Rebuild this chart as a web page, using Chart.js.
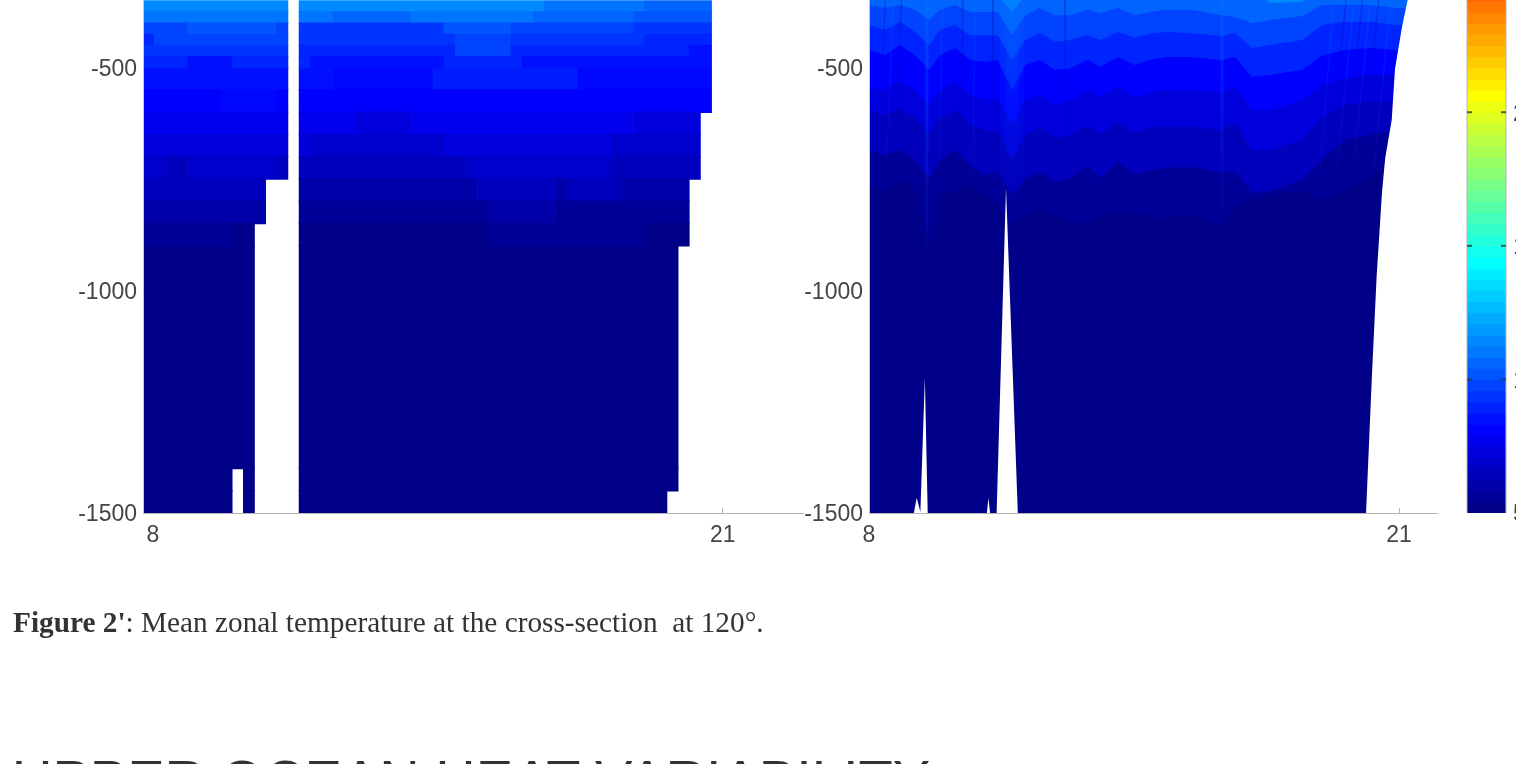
<!DOCTYPE html>
<html lang="en">

<head>
    <meta charset="UTF-8">
    <title>Figure 2'</title>
    <script src="https://cdn.jsdelivr.net/npm/chart.js@4"></script>
    <style>
        html, body { margin: 0; padding: 0; background: #fff; overflow: hidden; width: 1516px; height: 764px; }
        canvas { position: absolute; top: 0; filter: blur(0.5px); }
        #caption { position: absolute; left: 13px; top: 606px; font: 29.3px "Liberation Serif", serif; color: #333; white-space: pre; filter: blur(0.4px); }
        #heading { position: absolute; left: 12px; top: 747px; font: 56px "Liberation Sans", sans-serif; color: #333; white-space: pre; filter: blur(0.4px); }
    </style>
</head>

<body>
    <canvas id="leftPanel" width="810" height="560" style="left:0"></canvas>
    <canvas id="rightPanel" width="714" height="560" style="left:726px"></canvas>
    <canvas id="colorBar" width="120" height="560" style="left:1440px"></canvas>
    <div id="caption"><b>Figure 2'</b>: Mean zonal temperature at the cross-section  at 120°.</div>
    <div id="heading">UPPER OCEAN HEAT VARIABILITY</div>

<script>
    // axis ticks
    const depthTicks = [-1500, -1000, -500];
    const leftLonTicks = [8.22, 21];
    const rightLonTicks = [8, 21];
    const lonTickLabels = ["8", "21"];
    const barTicks = [5, 10, 15, 20];

    // left panel, [lon from, lon to, temperature] per depth row
    const rows25m = {
        "-362.5": [[8, 11.25, 11.5], [11.5, 17, 11.5], [17, 19.25, 11.0], [19.25, 20.75, 10.6]],
        "-387.5": [[8, 11.25, 11.0], [11.5, 12.25, 11.0], [12.25, 14, 10.6], [14, 16.75, 11.0], [16.75, 19, 10.6], [19, 20.75, 10.2]],
        "-412.5": [[8, 9, 9.8], [9, 11, 10.2], [11, 11.25, 9.8], [11.5, 14.75, 9.4], [14.75, 16.25, 10.2], [16.25, 19, 9.8], [19, 20.75, 9.4]],
        "-437.5": [[8, 8.25, 9.0], [8.25, 11.25, 9.8], [11.5, 15, 9.4], [15, 16.25, 9.8], [16.25, 19.25, 9.4], [19.25, 20.75, 9.0]],
        "-462.5": [[8, 11.25, 9.4], [11.5, 15, 9.0], [15, 16.25, 9.8], [16.25, 20.25, 9.0], [20.25, 20.75, 8.5]],
        "-487.5": [[8, 9, 9.0], [9, 10, 8.5], [10, 11.25, 9.0], [11.5, 11.75, 9.0], [11.75, 14.75, 8.5], [14.75, 16.5, 9.0], [16.5, 20.75, 8.5]]
    };
    const rows50m = {
        "-525": [[8, 11.25, 8.5], [11.5, 12.25, 8.5], [12.25, 14.5, 8.3], [14.5, 17.75, 8.8], [17.75, 20.75, 8.3]],
        "-575": [[8, 9.75, 8.1], [9.75, 11, 8.3], [11, 11.25, 8.1], [11.5, 20.75, 8.1]],
        "-625": [[8, 11.25, 7.7], [11.5, 12.75, 7.7], [12.75, 14, 7.3], [14, 19, 7.7], [19, 20.5, 7.3]],
        "-675": [[8, 11.25, 7.3], [11.5, 11.75, 7.3], [11.75, 14.75, 6.9], [14.75, 18.5, 7.3], [18.5, 20.5, 6.9]],
        "-725": [[8, 8.5, 6.9], [8.5, 9, 6.5], [9, 11, 6.9], [11, 11.25, 6.5], [11.5, 15.25, 6.5], [15.25, 18.5, 6.9], [18.5, 20.5, 6.5]],
        "-775": [[8, 10.75, 6.5], [11.5, 15.5, 6.0], [15.5, 17.25, 6.5], [17.25, 17.5, 6.0], [17.5, 18.75, 6.5], [18.75, 20.25, 6.0]],
        "-825": [[8, 10.75, 6.0], [11.5, 15.75, 5.6], [15.75, 17.25, 6.0], [17.25, 20.25, 5.6]],
        "-875": [[8, 10, 5.6], [10, 10.5, 5.2], [11.5, 15.75, 5.2], [15.75, 19.25, 5.6], [19.25, 20.25, 5.2]],
        "-1425": [[8, 10, 5.2], [10.25, 10.5, 5.2], [11.5, 20, 5.2]],
        "-1475": [[8, 10, 5.2], [10.25, 10.5, 5.2], [11.5, 19.75, 5.2]]
    };
    // one tall row from -900 to -1400
    const rowsDeep = {
        "-1150": [[8, 10.5, 5.2], [11.5, 20, 5.2]]
    };

    // right panel, depth of each isotherm at these longitudes
    const isoLons = [8, 8.39, 8.76, 9.13, 9.47, 9.74, 10.11, 10.48, 10.85, 11.16, 11.51, 11.83, 12.19, 12.56, 12.93, 13.37,
        13.67, 14.11, 14.52, 14.89, 15.26, 15.87, 16.66, 16.98, 17.39, 17.84, 18.62, 19.11, 19.68, 20.29, 20.9, 21.27];
    const isoTemps = [11.5, 10.6, 9.8, 9.0, 8.1, 7.3, 6.5, 5.6];
    const iso115 = [-326, -326, -326, -326, -348, -326, -326, -326, -326, -337, -375, -337, -326, -326, -326, -326,
        -326, -326, -326, -326, -326, -326, -326, -326, -326, -355, -352, -326, -326, -326, -326, -326];
    const iso106 = [-359, -366, -359, -370, -393, -370, -359, -375, -375, -375, -427, -382, -366, -382, -382, -370,
        -377, -366, -382, -375, -370, -370, -382, -386, -400, -393, -384, -359, -359, -359, -366, -366];
    const iso98 = [-404, -415, -397, -420, -449, -415, -404, -427, -427, -427, -483, -438, -422, -442, -438, -427,
        -438, -420, -433, -424, -420, -422, -429, -422, -456, -449, -438, -404, -397, -397, -404, -404];
    const iso90 = [-460, -472, -449, -472, -505, -472, -456, -483, -487, -483, -550, -494, -483, -505, -501, -483,
        -498, -476, -494, -483, -476, -476, -483, -476, -521, -516, -505, -472, -460, -456, -460, -460];
    const iso81 = [-546, -550, -528, -550, -584, -550, -532, -561, -573, -568, -629, -573, -561, -584, -573, -550,
        -566, -543, -568, -555, -550, -550, -555, -543, -595, -595, -573, -539, -523, -516, -516, -516];
    const iso73 = [-595, -606, -591, -613, -651, -613, -595, -629, -640, -640, -707, -651, -635, -658, -651, -629,
        -649, -622, -647, -635, -633, -633, -640, -622, -685, -685, -662, -613, -584, -577, -573, -573];
    const iso65 = [-685, -696, -685, -707, -748, -707, -685, -719, -741, -734, -786, -748, -734, -757, -748, -719,
        -748, -712, -741, -730, -725, -723, -734, -734, -779, -777, -752, -707, -662, -651, -640, -640];
    const iso56 = [-764, -775, -752, -775, -887, -786, -775, -764, -786, -808, -853, -831, -820, -831, -847, -847,
        -831, -824, -831, -831, -838, -829, -853, -808, -797, -786, -775, -797, -775, -741, -719, -719];
    const isotherms = [iso115, iso106, iso98, iso90, iso81, iso73, iso65, iso56];

    // seabed outline of the right panel
    const seabedLons = [8, 9.1, 9.17, 9.26, 9.37, 9.44, 10.89, 10.93, 10.97, 11.13, 11.36, 11.65, 20.19, 20.33, 20.45, 20.58, 20.66, 20.82, 20.9, 21.07, 21.21, 21.5, 21.93];
    const seabedDepths = [-1500, -1500, -1466, -1497, -1197, -1500, -1500, -1466, -1500, -1500, -770, -1500, -1500, -1199, -968, -781, -703, -617, -503, -409, -348, -258, -258];

    // narrow warm and cold streaks: [lon top, depth top, lon bottom, depth bottom, width, opacity, warm?]
    const streaks = [
        [9.42, -348, 9.42, -950, 3, 0.4, 1],
        [11.51, -348, 11.51, -800, 24, 0.14, 1],
        [11.51, -348, 11.51, -760, 12, 0.18, 1],
        [11.04, -348, 11.04, -760, 2, 0.3, 0],
        [12.81, -348, 12.81, -800, 2, 0.3, 0],
        [16.66, -348, 16.66, -850, 3, 0.35, 1],
        [19.4, -348, 19.0, -800, 1.5, 0.25, 1],
        [19.7, -348, 19.2, -800, 1.5, 0.3, 0],
        [19.9, -348, 19.4, -800, 1.5, 0.25, 1],
        [20.1, -348, 19.6, -800, 1.5, 0.3, 0],
        [20.3, -348, 19.8, -800, 1.5, 0.25, 1],
        [20.5, -348, 20.0, -800, 1.5, 0.3, 0],
        [20.8, -348, 20.3, -800, 1.5, 0.25, 1],
        [8.4, -348, 8.2, -780, 1.5, 0.3, 0],
        [8.6, -348, 8.4, -780, 1.5, 0.25, 1],
        [8.8, -348, 8.6, -780, 1.5, 0.3, 0],
        [9.8, -348, 9.7, -820, 1.5, 0.25, 1],
        [10.3, -348, 10.25, -820, 1.5, 0.3, 0],
        [10.6, -348, 10.55, -820, 1.5, 0.25, 1]
    ];

    // color bar bands
    const barLevels = [5.21, 5.63, 6.04, 6.46, 6.88, 7.29, 7.71, 8.13, 8.54, 8.96, 9.38, 9.79, 10.21, 10.63, 11.04, 11.46,
        11.88, 12.29, 12.71, 13.13, 13.54, 13.96, 14.38, 14.79, 15.21, 15.63, 16.04, 16.46, 16.88, 17.29, 17.71, 18.13,
        18.54, 18.96, 19.38, 19.79, 20.21, 20.63, 21.04, 21.46, 21.88, 22.29, 22.71, 23.13, 23.54, 23.96, 24.38];

    const textColor = "#444";
    const axisColor = "#b4b4b4";
    const tickFont = { family: "Liberation Sans", size: 23 };

    Chart.defaults.animation = false;

    function jet(temp) {
        const v = (temp - 5) / 25;
        const clamp = (a) => Math.round(255 * Math.max(0, Math.min(1, a)));
        const r = clamp(Math.min(4 * v - 1.5, 4.5 - 4 * v));
        const g = clamp(Math.min(4 * v - 0.5, 3.5 - 4 * v));
        const b = clamp(Math.min(4 * v + 0.5, 2.5 - 4 * v));
        return `rgb(${r},${g},${b})`;
    }

    function rowBars(rows) {
        const bars = [];
        Object.keys(rows).forEach((depth) => {
            rows[depth].forEach((run) => {
                bars.push({ x: [run[0], run[1]], y: Number(depth), t: run[2] });
            });
        });
        return bars;
    }

    // the plot box has to reach the page top, so no label padding on the axes
    function noPadding(scale) {
        scale.paddingTop = 0;
        scale.paddingBottom = 0;
        scale.paddingLeft = 0;
        scale.paddingRight = 0;
    }

    function panelScales(xMax, lonTicks, yWidth) {
        return {
            x: {
                type: "linear",
                offset: false,
                min: 8,
                max: xMax,
                afterFit: (scale) => { scale.height = 47; noPadding(scale); },
                afterBuildTicks: (scale) => { scale.ticks = lonTicks.map((value) => ({ value })); },
                border: { color: axisColor, z: 1 },
                grid: {
                    z: 1,
                    drawOnChartArea: false,
                    tickLength: -5,
                    tickColor: (ctx) => (ctx.tick && ctx.tick.value === 21 ? axisColor : "transparent")
                },
                ticks: {
                    color: textColor,
                    font: tickFont,
                    padding: 14,
                    maxRotation: 0,
                    callback: (value, index) => lonTickLabels[index]
                }
            },
            y: {
                type: "linear",
                offset: false,
                min: -1500,
                max: -348,
                afterFit: (scale) => { scale.width = yWidth; noPadding(scale); },
                afterBuildTicks: (scale) => { scale.ticks = depthTicks.map((value) => ({ value })); },
                border: { color: "#c4c4e0", z: 1 },
                grid: { display: true, drawOnChartArea: false, drawTicks: false },
                ticks: { color: textColor, font: tickFont, padding: 6, labelOffset: 2, callback: (value) => String(value) }
            }
        };
    }

    const noPlugins = { legend: { display: false }, tooltip: { enabled: false } };

    // left panel, bars a bit thicker than their row so no seams show
    const cellColor = (ctx) => (ctx.raw ? jet(ctx.raw.t) : "transparent");

    new Chart(document.getElementById("leftPanel"), {
        type: "bar",
        data: {
            datasets: [
                { data: rowBars(rows25m), barThickness: 11.8, grouped: false, backgroundColor: cellColor, borderWidth: 0 },
                { data: rowBars(rows50m), barThickness: 23, grouped: false, backgroundColor: cellColor, borderWidth: 0 },
                { data: rowBars(rowsDeep), barThickness: 223.4, grouped: false, backgroundColor: cellColor, borderWidth: 0 }
            ]
        },
        options: {
            responsive: false,
            indexAxis: "y",
            layout: { padding: { right: 7 } },
            scales: panelScales(22.8, leftLonTicks, 143),
            plugins: noPlugins
        }
    });

    // right panel, first dataset ends up on top
    const rightSets = [];
    rightSets.push({
        data: seabedLons.map((x, i) => ({ x, y: seabedDepths[i] })),
        showLine: true, pointRadius: 0, borderWidth: 0, borderColor: "#fff", backgroundColor: "#fff", fill: "start"
    });
    streaks.forEach((s) => {
        rightSets.push({
            data: [{ x: s[0], y: s[1] }, { x: s[2], y: s[3] }],
            showLine: true,
            pointRadius: 0,
            borderWidth: s[4],
            borderColor: (ctx) => {
                const chart = ctx.chart;
                if (!chart.chartArea) {
                    return "transparent";
                }
                const y = chart.scales.y;
                const grad = chart.ctx.createLinearGradient(0, y.getPixelForValue(s[1]), 0, y.getPixelForValue(s[3]));
                const rgb = s[6] ? "0,110,255" : "0,0,150";
                grad.addColorStop(0, `rgba(${rgb},${s[5]})`);
                grad.addColorStop(1, `rgba(${rgb},0)`);
                return grad;
            }
        });
    });
    isotherms.forEach((depths, k) => {
        rightSets.push({
            data: isoLons.map((x, i) => ({ x, y: depths[i] })),
            showLine: true, pointRadius: 0, borderWidth: 0, backgroundColor: jet(isoTemps[k]), fill: "end"
        });
    });
    rightSets.push({
        data: [{ x: 8, y: -1500 }, { x: 21.27, y: -1500 }],
        showLine: true, pointRadius: 0, borderWidth: 0, backgroundColor: jet(5.2), fill: "end"
    });

    new Chart(document.getElementById("rightPanel"), {
        type: "scatter",
        data: { datasets: rightSets },
        options: {
            responsive: false,
            layout: { padding: { right: 3 } },
            scales: panelScales(21.93, rightLonTicks, 143),
            plugins: noPlugins
        }
    });

    // color bar, ticks and frame as line datasets over the bands
    const barSets = [];
    barTicks.slice(1).forEach((t) => {
        [[0, 0.13], [0.87, 1]].forEach((end) => {
            barSets.push({
                type: "scatter",
                data: [{ x: end[0], y: t }, { x: end[1], y: t }],
                showLine: true, pointRadius: 0, borderWidth: 2, borderColor: "rgba(40,60,60,0.8)"
            });
        });
    });
    [0, 1].forEach((x) => {
        barSets.push({
            type: "scatter",
            data: [{ x, y: 5 }, { x, y: 24.2 }],
            showLine: true, pointRadius: 0, borderWidth: 1, borderColor: axisColor, clip: 2
        });
    });
    barSets.push({
        type: "bar",
        data: barLevels.map((t) => ({ x: [0, 1], y: t, t })),
        barThickness: 11.9,
        grouped: false,
        backgroundColor: cellColor,
        borderWidth: 0
    });

    new Chart(document.getElementById("colorBar"), {
        data: { datasets: barSets },
        options: {
            responsive: false,
            indexAxis: "y",
            layout: { padding: { left: 27 } },
            scales: {
                x: {
                    type: "linear",
                    min: 0,
                    max: 1,
                    afterFit: (scale) => { scale.height = 47; noPadding(scale); },
                    border: { display: false },
                    grid: { display: false },
                    ticks: { display: false }
                },
                y: {
                    type: "linear",
                    position: "right",
                    offset: false,
                    min: 5,
                    max: 24.2,
                    afterFit: (scale) => { scale.width = 54; noPadding(scale); },
                    afterBuildTicks: (scale) => { scale.ticks = barTicks.map((value) => ({ value })); },
                    border: { display: false },
                    grid: { display: false, drawTicks: false },
                    ticks: { color: textColor, font: tickFont, padding: 7, labelOffset: 2 }
                }
            },
            plugins: noPlugins
        }
    });
</script>
</body>

</html>
